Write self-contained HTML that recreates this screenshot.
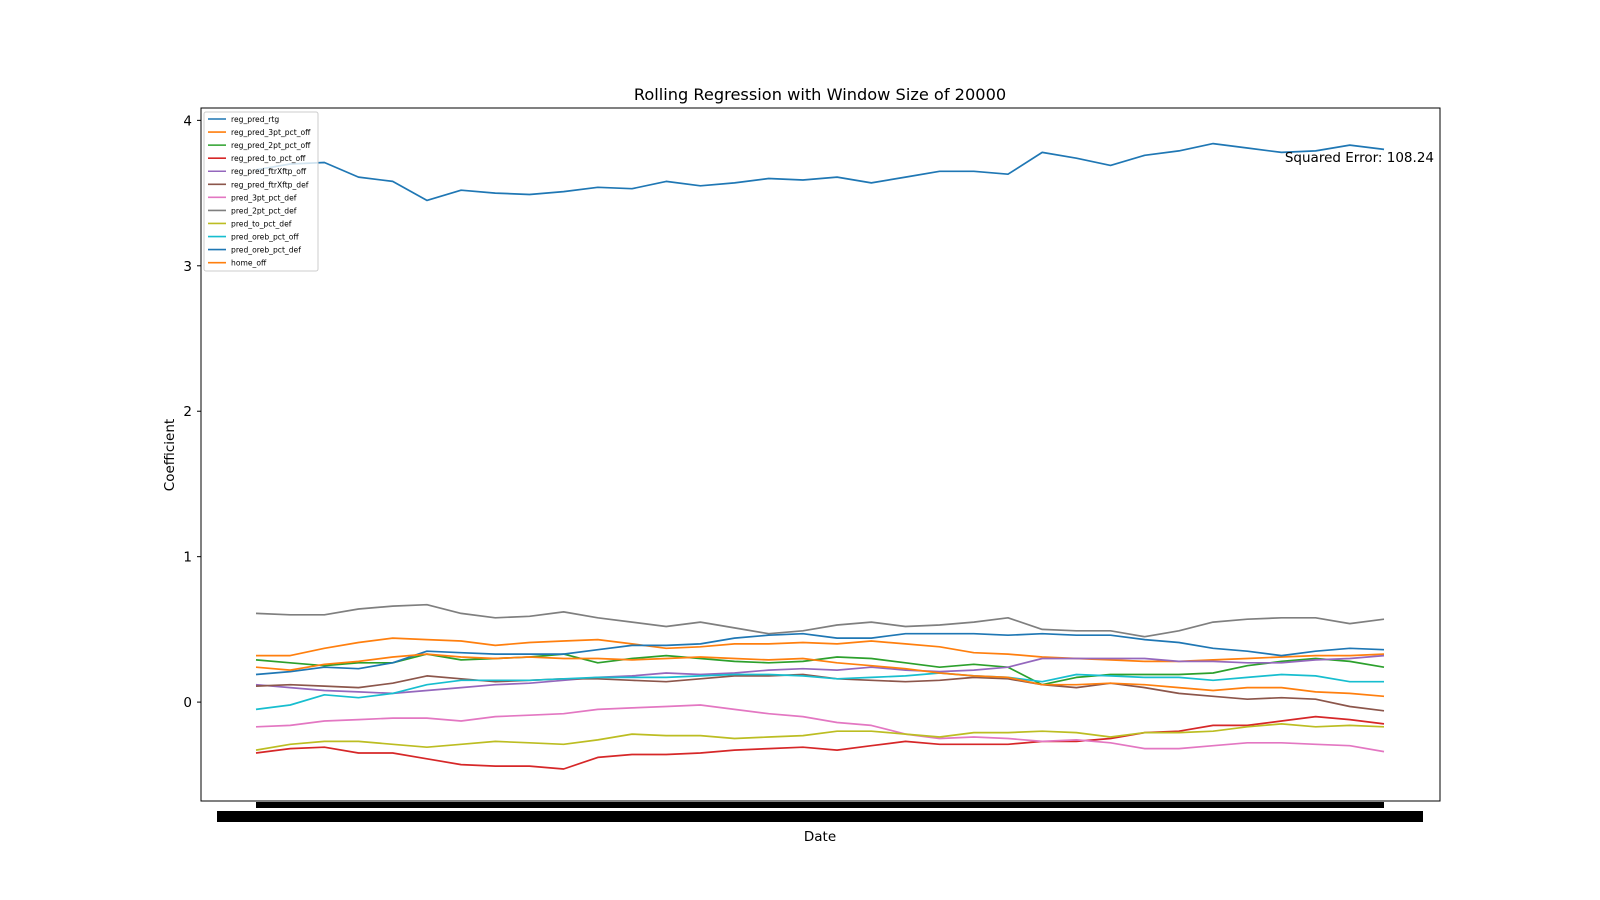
<!DOCTYPE html>
<html><head><meta charset="utf-8">
<style>
body{margin:0;background:#fff;}
svg{display:block;font-family:"DejaVu Sans","Liberation Sans",sans-serif;}
</style></head>
<body>
<svg id="chart" width="1600" height="900" viewBox="0 0 1600 900">
<rect x="0" y="0" width="1600" height="900" fill="#fff"/>
<text x="820" y="100" text-anchor="middle" font-size="16.2">Rolling Regression with Window Size of 20000</text>
<g id="yaxis"></g>
<g id="series"></g>
<rect x="201" y="108" width="1239" height="693" fill="none" stroke="#000" stroke-width="1"/>
<rect x="256" y="802" width="1128" height="6" fill="#000"/>
<rect x="217" y="811" width="1206" height="11" fill="#000"/>
<text x="820" y="841" text-anchor="middle" font-size="13.5">Date</text>
<text x="0" y="0" transform="translate(174,455) rotate(-90)" text-anchor="middle" font-size="13.5">Coefficient</text>
<text x="1434" y="162" text-anchor="end" font-size="13.5">Squared Error: 108.24</text>
<g id="legend"></g>
</svg>
<script>
const names = ["reg_pred_rtg","reg_pred_3pt_pct_off","reg_pred_2pt_pct_off","reg_pred_to_pct_off","reg_pred_ftrXftp_off","reg_pred_ftrXftp_def","pred_3pt_pct_def","pred_2pt_pct_def","pred_to_pct_def","pred_oreb_pct_off","pred_oreb_pct_def","home_off"];
const colors = ["#1f77b4","#ff7f0e","#2ca02c","#d62728","#9467bd","#8c564b","#e377c2","#7f7f7f","#bcbd22","#17becf","#1f77b4","#ff7f0e"];
const yTicks = [0,1,2,3,4];
const rtg = [3.66,3.70,3.71,3.61,3.58,3.45,3.52,3.50,3.49,3.51,3.54,3.53,3.58,3.55,3.57,3.60,3.59,3.61,3.57,3.61,3.65,3.65,3.63,3.78,3.74,3.69,3.76,3.79,3.84,3.81,3.78,3.79,3.83,3.80];
const pt3Off = [0.32,0.32,0.37,0.41,0.44,0.43,0.42,0.39,0.41,0.42,0.43,0.40,0.37,0.38,0.40,0.40,0.41,0.40,0.42,0.40,0.38,0.34,0.33,0.31,0.30,0.29,0.28,0.28,0.29,0.30,0.31,0.32,0.32,0.33];
const pt2Off = [0.29,0.27,0.25,0.27,0.27,0.33,0.29,0.30,0.31,0.33,0.27,0.30,0.32,0.30,0.28,0.27,0.28,0.31,0.30,0.27,0.24,0.26,0.24,0.12,0.17,0.19,0.19,0.19,0.20,0.25,0.28,0.30,0.28,0.24];
const toOff = [-0.35,-0.32,-0.31,-0.35,-0.35,-0.39,-0.43,-0.44,-0.44,-0.46,-0.38,-0.36,-0.36,-0.35,-0.33,-0.32,-0.31,-0.33,-0.30,-0.27,-0.29,-0.29,-0.29,-0.27,-0.27,-0.25,-0.21,-0.20,-0.16,-0.16,-0.13,-0.10,-0.12,-0.15];
const ftrOff = [0.12,0.10,0.08,0.07,0.06,0.08,0.10,0.12,0.13,0.15,0.17,0.18,0.20,0.19,0.20,0.22,0.23,0.22,0.24,0.22,0.21,0.22,0.24,0.30,0.30,0.30,0.30,0.28,0.28,0.27,0.27,0.29,0.30,0.32];
const ftrDef = [0.11,0.12,0.11,0.10,0.13,0.18,0.16,0.14,0.15,0.16,0.16,0.15,0.14,0.16,0.18,0.18,0.19,0.16,0.15,0.14,0.15,0.17,0.16,0.12,0.10,0.13,0.10,0.06,0.04,0.02,0.03,0.02,-0.03,-0.06];
const pt3Def = [-0.17,-0.16,-0.13,-0.12,-0.11,-0.11,-0.13,-0.10,-0.09,-0.08,-0.05,-0.04,-0.03,-0.02,-0.05,-0.08,-0.10,-0.14,-0.16,-0.22,-0.25,-0.24,-0.25,-0.27,-0.26,-0.28,-0.32,-0.32,-0.30,-0.28,-0.28,-0.29,-0.30,-0.34];
const pt2Def = [0.61,0.60,0.60,0.64,0.66,0.67,0.61,0.58,0.59,0.62,0.58,0.55,0.52,0.55,0.51,0.47,0.49,0.53,0.55,0.52,0.53,0.55,0.58,0.50,0.49,0.49,0.45,0.49,0.55,0.57,0.58,0.58,0.54,0.57];
const toDef = [-0.33,-0.29,-0.27,-0.27,-0.29,-0.31,-0.29,-0.27,-0.28,-0.29,-0.26,-0.22,-0.23,-0.23,-0.25,-0.24,-0.23,-0.20,-0.20,-0.22,-0.24,-0.21,-0.21,-0.20,-0.21,-0.24,-0.21,-0.21,-0.20,-0.17,-0.15,-0.17,-0.16,-0.17];
const orebOff = [-0.05,-0.02,0.05,0.03,0.06,0.12,0.15,0.15,0.15,0.16,0.17,0.17,0.17,0.18,0.19,0.19,0.18,0.16,0.17,0.18,0.20,0.18,0.17,0.14,0.19,0.18,0.17,0.17,0.15,0.17,0.19,0.18,0.14,0.14];
const orebDef = [0.19,0.21,0.24,0.23,0.27,0.35,0.34,0.33,0.33,0.33,0.36,0.39,0.39,0.40,0.44,0.46,0.47,0.44,0.44,0.47,0.47,0.47,0.46,0.47,0.46,0.46,0.43,0.41,0.37,0.35,0.32,0.35,0.37,0.36];
const homeOff = [0.24,0.22,0.26,0.28,0.31,0.33,0.31,0.30,0.31,0.30,0.30,0.29,0.30,0.31,0.30,0.29,0.30,0.27,0.25,0.23,0.20,0.18,0.17,0.12,0.12,0.13,0.12,0.10,0.08,0.10,0.10,0.07,0.06,0.04];
const seriesValues = [rtg,pt3Off,pt2Off,toOff,ftrOff,ftrDef,pt3Def,pt2Def,toDef,orebOff,orebDef,homeOff];

const NS = "http://www.w3.org/2000/svg";
const X0 = 256, X1 = 1384, YTOP = 108, YBOT = 801, VMIN = -0.68, VMAX = 4.085;
function xScale(i, n){ return X0 + (X1 - X0) * i / (n - 1); }
function yScale(v){ return YBOT - (v - VMIN) / (VMAX - VMIN) * (YBOT - YTOP); }

const yaxis = document.getElementById('yaxis');
yTicks.forEach(t => {
  const y = yScale(t);
  const l = document.createElementNS(NS,'line');
  l.setAttribute('x1',197); l.setAttribute('x2',201); l.setAttribute('y1',y); l.setAttribute('y2',y);
  l.setAttribute('stroke','#000');
  
  
  yaxis.appendChild(l);
  const tx = document.createElementNS(NS,'text');
  tx.setAttribute('x',192); tx.setAttribute('y',y+5); tx.setAttribute('text-anchor','end'); tx.setAttribute('font-size','13.5');
  tx.textContent = t;
  
  
  yaxis.appendChild(tx);
});

const sg = document.getElementById('series');
seriesValues.forEach((vals, k) => {
  const pts = vals.map((v,i) => xScale(i, vals.length).toFixed(1) + ',' + yScale(v).toFixed(1)).join(' ');
  const p = document.createElementNS(NS,'polyline');
  p.setAttribute('points', pts);
  p.setAttribute('fill','none');
  p.setAttribute('stroke', colors[k]);
  p.setAttribute('stroke-width','1.7');
  p.setAttribute('stroke-linejoin','round');
  
  
  sg.appendChild(p);
});

const lg = document.getElementById('legend');
const box = document.createElementNS(NS,'rect');
box.setAttribute('x',204); box.setAttribute('y',112); box.setAttribute('width',114); box.setAttribute('height',159);
box.setAttribute('rx',2); box.setAttribute('fill','#fff'); box.setAttribute('fill-opacity','0.8'); box.setAttribute('stroke','#ccc');


lg.appendChild(box);
names.forEach((n,k) => {
  const y = 119 + k * 13.06;
  const l = document.createElementNS(NS,'line');
  l.setAttribute('x1',208); l.setAttribute('x2',226); l.setAttribute('y1',y); l.setAttribute('y2',y);
  l.setAttribute('stroke',colors[k]); l.setAttribute('stroke-width','1.6');
  
  
  lg.appendChild(l);
  const t = document.createElementNS(NS,'text');
  t.setAttribute('x',231); t.setAttribute('y',y+3); t.setAttribute('font-size','7.6');
  t.textContent = n;
  
  
  lg.appendChild(t);
});
</script>
</body></html>
